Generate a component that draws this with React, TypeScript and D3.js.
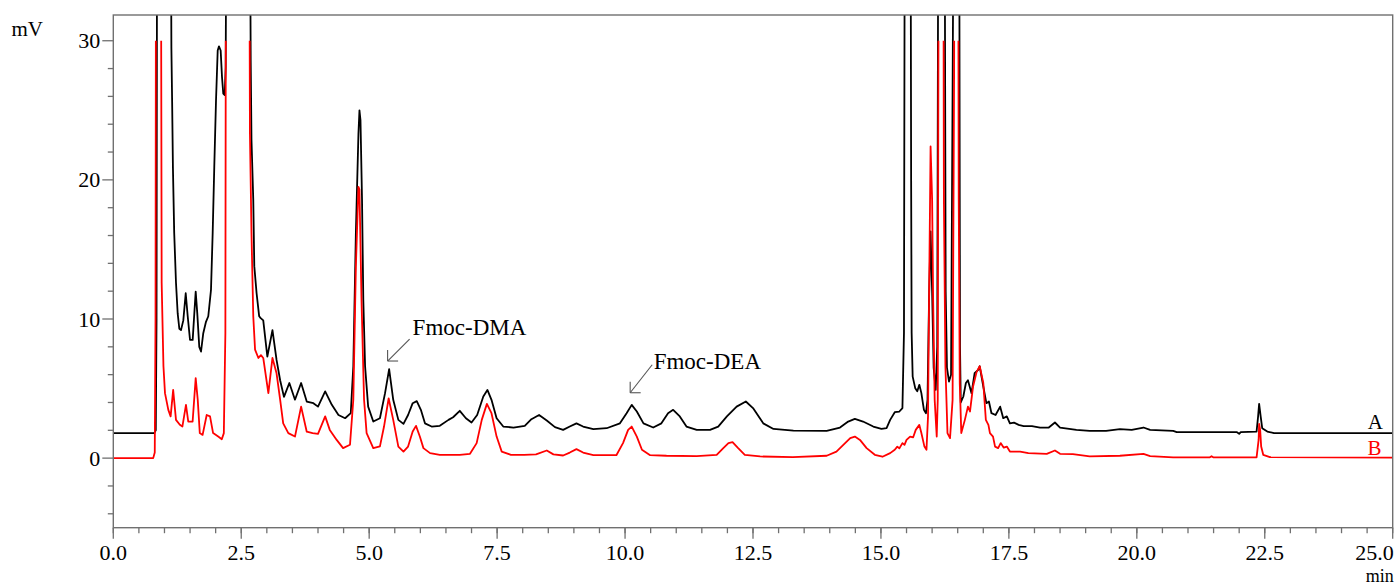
import React from "react";
import * as d3 from "d3";

// ---- data (time in min, signal in mV) ----
const seriesA: [number, number][] = [
  [0, 1.8], [0.8, 1.8], [0.83, 2.0], [0.845, 10], [0.855, 40], [1.0, 60], [1.125, 40], [1.135, 29.5],
  [1.15, 25.5], [1.165, 20.9], [1.19, 16.2], [1.225, 12.6], [1.258, 10.4], [1.29, 9.3], [1.323, 9.2],
  [1.368, 9.9], [1.415, 11.85], [1.454, 10.2], [1.499, 8.5], [1.551, 8.5], [1.583, 10.4], [1.61, 11.97],
  [1.641, 10.4], [1.68, 8.0], [1.714, 7.66], [1.758, 8.98], [1.811, 9.8], [1.856, 10.2], [1.909, 12.1],
  [1.942, 16.2], [1.973, 20.9], [2.007, 25.7], [2.04, 29.3], [2.065, 29.6], [2.098, 29.3], [2.124, 27.4],
  [2.149, 26.2], [2.177, 26.1], [2.196, 28.1], [2.21, 40], [2.45, 60], [2.67, 40], [2.685, 28.6],
  [2.7, 22.9], [2.735, 18.6], [2.755, 13.8], [2.8, 11.85], [2.85, 10.2], [2.88, 10.06], [2.93, 9.9],
  [3.01, 7.3], [3.11, 9.2], [3.19, 7.06], [3.26, 5.6], [3.335, 4.4], [3.44, 5.4], [3.55, 4.2], [3.67, 5.4],
  [3.78, 4.07], [3.91, 3.95], [4.0, 3.7], [4.14, 4.8], [4.27, 3.83], [4.4, 3.1], [4.53, 2.87], [4.64, 3.23],
  [4.69, 6.6], [4.74, 16.2], [4.79, 23.3], [4.81, 25.0], [4.83, 24.3], [4.86, 18.6], [4.885, 11.4],
  [4.92, 6.6], [4.98, 3.7], [5.08, 2.63], [5.21, 2.87], [5.31, 4.67], [5.39, 6.4], [5.47, 4.19],
  [5.57, 2.75], [5.67, 2.46], [5.76, 3.1], [5.85, 3.95], [5.93, 4.1], [6.01, 3.47], [6.09, 2.5],
  [6.22, 2.27], [6.38, 2.32], [6.55, 2.75], [6.64, 2.94], [6.77, 3.4], [6.89, 2.87], [7.0, 2.56],
  [7.11, 3.1], [7.23, 4.43], [7.31, 4.9], [7.39, 4.19], [7.49, 2.87], [7.62, 2.27], [7.82, 2.2],
  [8.04, 2.32], [8.17, 2.8], [8.32, 3.1], [8.47, 2.7], [8.63, 2.23], [8.79, 2.03], [8.92, 2.27],
  [9.05, 2.5], [9.18, 2.27], [9.38, 2.08], [9.64, 2.15], [9.9, 2.5], [10.03, 3.23], [10.13, 3.83],
  [10.23, 3.35], [10.36, 2.5], [10.55, 2.2], [10.71, 2.5], [10.84, 3.23], [10.94, 3.47], [11.07, 3.0],
  [11.2, 2.27], [11.4, 2.03], [11.66, 2.03], [11.82, 2.27], [11.99, 3.0], [12.18, 3.7], [12.36, 4.07],
  [12.5, 3.6], [12.7, 2.5], [12.9, 2.1], [13.29, 1.98], [13.94, 1.96], [14.2, 2.2], [14.36, 2.63],
  [14.49, 2.82], [14.65, 2.63], [14.85, 2.27], [15.01, 2.1], [15.11, 2.15], [15.18, 2.75], [15.27, 3.3],
  [15.36, 3.35], [15.42, 3.6], [15.45, 9.0], [15.465, 40], [15.52, 60], [15.58, 40], [15.59, 20],
  [15.6, 9.0], [15.62, 5.86], [15.67, 5.03], [15.71, 4.8], [15.75, 5.27], [15.79, 4.67], [15.84, 3.47],
  [15.88, 3.23], [15.91, 4.19], [15.94, 11.4], [15.97, 16.3], [16.0, 12], [16.03, 6.5], [16.07, 4.9],
  [16.1, 8], [16.12, 40], [16.18, 60], [16.245, 40], [16.265, 12], [16.29, 6.5], [16.33, 5.5],
  [16.37, 6], [16.42, 40], [16.48, 60], [16.53, 40], [16.545, 8], [16.56, 4.0], [16.61, 4.43],
  [16.66, 5.4], [16.7, 5.6], [16.77, 4.67], [16.83, 6.1], [16.9, 6.34], [16.93, 6.6], [17.0, 5.15],
  [17.06, 3.95], [17.11, 4.07], [17.16, 3.23], [17.24, 3.1], [17.33, 3.7], [17.39, 2.87], [17.46, 3.0],
  [17.52, 2.5], [17.6, 2.55], [17.69, 2.39], [17.79, 2.3], [17.95, 2.3], [18.11, 2.2], [18.28, 2.2],
  [18.4, 2.56], [18.5, 2.2], [18.82, 2.03], [19.08, 1.96], [19.4, 1.96], [19.67, 2.08], [19.9, 2.03],
  [20.13, 2.2], [20.26, 2.03], [20.71, 1.96], [20.78, 1.87], [21.95, 1.87], [22.0, 1.75], [22.03, 1.87],
  [22.34, 1.9], [22.37, 3.0], [22.39, 3.9], [22.42, 3.0], [22.45, 2.15], [22.55, 1.91], [22.68, 1.8],
  [25, 1.8],
];

const seriesB: [number, number][] = [
  [0, 0], [0.78, 0], [0.81, 0.4], [0.825, 10], [0.838, 50], [0.925, 50], [0.945, 12.6], [0.98, 6.6],
  [1.01, 4.67], [1.075, 3.47], [1.12, 3.0], [1.17, 4.9], [1.225, 2.75], [1.3, 2.4], [1.35, 2.27],
  [1.42, 3.83], [1.465, 2.63], [1.55, 2.63], [1.61, 5.75], [1.65, 4.19], [1.69, 1.8], [1.745, 1.67],
  [1.825, 3.1], [1.89, 3.0], [1.95, 1.8], [2.05, 1.55], [2.12, 1.36], [2.16, 1.8], [2.19, 9.0],
  [2.205, 50], [2.65, 50], [2.67, 23.3], [2.7, 16.2], [2.735, 10.2], [2.77, 7.8], [2.835, 7.2],
  [2.885, 7.4], [2.93, 7.2], [3.03, 4.67], [3.11, 7.2], [3.19, 6.1], [3.26, 4.2], [3.32, 2.5],
  [3.42, 1.8], [3.55, 1.55], [3.67, 3.7], [3.78, 1.9], [3.895, 1.8], [4.0, 1.75], [4.14, 3.0],
  [4.23, 2.03], [4.365, 1.31], [4.49, 0.72], [4.625, 0.96], [4.69, 4.2], [4.74, 13.8], [4.79, 19.5],
  [4.81, 19.3], [4.85, 11.4], [4.9, 4.2], [4.95, 1.8], [5.08, 0.72], [5.21, 0.85], [5.29, 2.27],
  [5.38, 4.3], [5.47, 2.75], [5.57, 0.83], [5.67, 0.47], [5.76, 0.83], [5.85, 1.91], [5.915, 2.32],
  [5.99, 1.55], [6.06, 0.72], [6.19, 0.36], [6.38, 0.24], [6.77, 0.24], [6.97, 0.31], [7.1, 1.08],
  [7.2, 2.75], [7.3, 3.9], [7.39, 3.23], [7.49, 1.55], [7.59, 0.47], [7.77, 0.24], [8.03, 0.24],
  [8.26, 0.27], [8.47, 0.55], [8.6, 0.27], [8.79, 0.19], [8.92, 0.4], [9.05, 0.65], [9.18, 0.4],
  [9.38, 0.21], [9.83, 0.21], [9.96, 1.08], [10.06, 2.03], [10.13, 2.27], [10.23, 1.55], [10.33, 0.6],
  [10.49, 0.21], [10.81, 0.17], [11.4, 0.15], [11.79, 0.24], [11.92, 0.72], [12.02, 1.08], [12.1, 1.15],
  [12.21, 0.72], [12.34, 0.24], [12.64, 0.12], [13.28, 0.07], [13.94, 0.17], [14.13, 0.47], [14.3, 1.08],
  [14.4, 1.44], [14.49, 1.55], [14.59, 1.31], [14.72, 0.72], [14.88, 0.24], [15.03, 0.1], [15.18, 0.36],
  [15.27, 0.6], [15.32, 0.83], [15.36, 0.7], [15.42, 1.08], [15.46, 0.95], [15.5, 1.31], [15.57, 1.55],
  [15.63, 1.5], [15.68, 2.03], [15.75, 2.39], [15.79, 1.8], [15.85, 0.83], [15.89, 0.6], [15.92, 3.0],
  [15.94, 11.4], [15.96, 18.6], [15.97, 22.4], [16.0, 18.6], [16.02, 11.4], [16.05, 4.19], [16.09, 1.55],
  [16.11, 4.19], [16.12, 23.3], [16.135, 50], [16.215, 50], [16.23, 18.6], [16.26, 6.6], [16.3, 1.8],
  [16.35, 1.44], [16.4, 4.19], [16.43, 28], [16.44, 50], [16.505, 50], [16.52, 18.6], [16.54, 5.4],
  [16.57, 1.8], [16.64, 2.75], [16.7, 3.7], [16.74, 3.35], [16.8, 5.15], [16.87, 6.2], [16.93, 6.6],
  [17.0, 5.4], [17.05, 2.75], [17.1, 2.39], [17.13, 1.8], [17.19, 1.55], [17.23, 0.83], [17.29, 0.72],
  [17.34, 1.08], [17.4, 0.75], [17.46, 0.83], [17.52, 0.47], [17.72, 0.47], [17.88, 0.36], [18.24, 0.31],
  [18.4, 0.55], [18.5, 0.31], [18.75, 0.29], [19.08, 0.12], [19.67, 0.17], [20.13, 0.31], [20.26, 0.15],
  [20.71, 0.05], [21.42, 0.05], [21.46, 0.14], [21.5, 0.05], [22.34, 0.05], [22.38, 1.31], [22.39, 2.46],
  [22.41, 2.03], [22.43, 0.83], [22.47, 0.24], [22.6, 0.07], [25, 0.03],
];

const xMajorTicks = [0, 2.5, 5, 7.5, 10, 12.5, 15, 17.5, 20, 22.5, 25];
const xMinorTicks = d3.range(0, 25.01, 0.5);
const yMajorTicks = [0, 10, 20, 30];
const yMinorTicks = [-4, -2, 2, 4, 6, 8, 12, 14, 16, 18, 22, 24, 26, 28];
const redClipTop = 30; // detector range shown for trace B

const annotations = [
  { label: "Fmoc-DMA", t: 5.36, v: 6.98, lx: 22, ly: -22, tx: 25, ty: -26.5 },
  { label: "Fmoc-DEA", t: 10.1, v: 4.7, lx: 22, ly: -28, tx: 23.5, ty: -23.5 },
];

const W = 1397, H = 586;
const L = 113.3, R = 1392.7, T = 15, B = 527.7;
const FONT = "'Liberation Serif', 'Times New Roman', serif";
const AXIS = "#707070";

export default function App() {
  const x = d3.scaleLinear().domain([0, 25]).range([L, R]);
  const y = d3.scaleLinear().domain([-5, 31.85]).range([B, T]);
  const line = d3.line<[number, number]>().x(d => x(d[0])).y(d => y(d[1]));
  const lastTick = xMajorTicks[xMajorTicks.length - 1];

  return (
    <svg width={W} height={H} style={{ position: "absolute", left: 0, top: 0, background: "#fff" }}>
      <defs>
        <clipPath id="plot">
          <rect x={L} y={T} width={R - L} height={B - T} />
        </clipPath>
        <clipPath id="plotB">
          <rect x={L} y={y(redClipTop)} width={R - L} height={B - y(redClipTop)} />
        </clipPath>
      </defs>
      <rect x={0} y={0} width={W} height={H} fill="#fff" />
      <g clipPath="url(#plot)">
        <path d={line(seriesA) || ""} fill="none" stroke="#000" strokeWidth={1.8} strokeLinejoin="round" />
      </g>
      <g clipPath="url(#plotB)">
        <path d={line(seriesB) || ""} fill="none" stroke="#ff0000" strokeWidth={1.8} strokeLinejoin="round" />
      </g>
      <rect x={L} y={T} width={R - L} height={B - T} fill="none" stroke={AXIS} strokeWidth={1.4} />
      {xMinorTicks.map(t => (
        <line key={"xm" + t} x1={x(t)} x2={x(t)} y1={B} y2={B + 5.5} stroke={AXIS} strokeWidth={1.3} />
      ))}
      {xMajorTicks.map(t => (
        <g key={"xM" + t}>
          <line x1={x(t)} x2={x(t)} y1={B} y2={B + 11} stroke={AXIS} strokeWidth={1.3} />
          <text x={t === lastTick ? R + 1 : x(t)} y={B + 32} textAnchor={t === lastTick ? "end" : "middle"}
            fontFamily={FONT} fontSize={22} fill="#000">
            {t.toFixed(1)}
          </text>
        </g>
      ))}
      {yMinorTicks.map(v => (
        <line key={"ym" + v} x1={L - 5.5} x2={L} y1={y(v)} y2={y(v)} stroke={AXIS} strokeWidth={1.3} />
      ))}
      {yMajorTicks.map(v => (
        <g key={"yM" + v}>
          <line x1={L - 11} x2={L} y1={y(v)} y2={y(v)} stroke={AXIS} strokeWidth={1.3} />
          <text x={L - 13} y={y(v) + 7.5} textAnchor="end" fontFamily={FONT} fontSize={22} fill="#000">
            {v}
          </text>
        </g>
      ))}
      <text x={11.5} y={36} fontFamily={FONT} fontSize={21} fill="#000">mV</text>
      <text x={R + 1} y={581.5} textAnchor="end" fontFamily={FONT} fontSize={18} fill="#000">min</text>
      <text x={1383} y={428.5} textAnchor="end" fontFamily={FONT} fontSize={21} fill="#000">A</text>
      <text x={1381.5} y={455} textAnchor="end" fontFamily={FONT} fontSize={21} fill="#ff0000">B</text>
      {annotations.map(a => {
        const px = x(a.t), py = y(a.v);
        return (
          <g key={a.label}>
            <line x1={px} y1={py} x2={px + a.lx} y2={py + a.ly} stroke="#555" strokeWidth={1.1} />
            <line x1={px} y1={py} x2={px + 10.5} y2={py} stroke="#555" strokeWidth={1.1} />
            <line x1={px} y1={py} x2={px} y2={py - 11} stroke="#555" strokeWidth={1.1} />
            <text x={px + a.tx} y={py + a.ty} fontFamily={FONT} fontSize={23} fill="#000">{a.label}</text>
          </g>
        );
      })}
    </svg>
  );
}
